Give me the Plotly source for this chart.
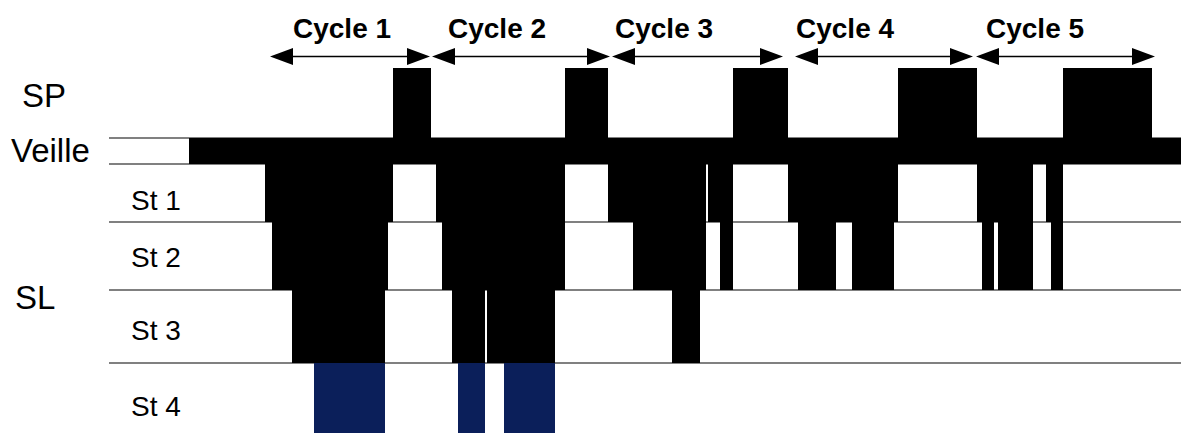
import plotly.graph_objects as go

# ---- data: hypnogram (minutes from lights-off) ----
seg_start = [0, 38, 41.5, 51.5, 62.5, 98, 99.5, 102, 121,
             123.5, 126.5, 131.5, 134.5, 148, 149, 157.5, 183, 188,
             209.5, 222, 241.5, 255.5, 258.5, 259.5, 265.5, 272,
             299.5, 304.5, 323.5, 331.5, 352.5, 354.5,
             394, 396.5, 402.5, 404.5, 422, 428.5, 431, 437, 481.5]
seg_stage = ["Veille", "St 1", "St 2", "St 3", "St 4", "St 2", "St 1", "SP", "Veille",
             "St 1", "St 2", "St 3", "St 4", "St 2", "St 3", "St 4", "St 2", "SP",
             "St 1", "St 2", "St 3", "St 2", "Veille", "St 1", "St 2", "SP",
             "St 1", "St 2", "St 1", "St 2", "St 1", "SP",
             "St 1", "St 2", "St 1", "St 2", "Veille", "St 1", "St 2", "SP", "Veille"]
night_end = 496

cycle_names = ["Cycle 1", "Cycle 2", "Cycle 3", "Cycle 4", "Cycle 5"]
cycle_start = [40.5, 121.5, 211.5, 303, 393.5]
cycle_end = [120.5, 210.5, 297, 392, 483]
cycle_label_x = [76.5, 154, 237.5, 328, 423]

stage_labels = ["St 1", "St 2", "St 3", "St 4"]

# ---- layout geometry (vertical bands of the stage scale) ----
ROW_TOP = {"SP": 68, "Veille": 138, "St 1": 164, "St 2": 222, "St 3": 290, "St 4": 363}
ROW_BOT = {"SP": 138, "Veille": 164, "St 1": 222, "St 2": 290, "St 3": 363, "St 4": 433}
label_y = {"St 1": 200, "St 2": 257, "St 3": 330, "St 4": 406}

seg_end = seg_start[1:] + [night_end]

bx, bw, bbase, bh = [], [], [], []
nx, nw, nbase, nh = [], [], [], []
for s, e, st in zip(seg_start, seg_end, seg_stage):
    mid, w = (s + e) / 2, e - s
    top = ROW_TOP["SP"] if st == "SP" else ROW_TOP["Veille"]
    if st == "SP":
        bot = ROW_BOT["Veille"]
    elif st == "St 4":
        bot = ROW_TOP["St 4"]
        nx.append(mid); nw.append(w); nbase.append(ROW_TOP["St 4"])
        nh.append(ROW_BOT["St 4"] - ROW_TOP["St 4"])
    else:
        bot = ROW_BOT[st]
    bx.append(mid); bw.append(w); bbase.append(top); bh.append(bot - top)

fig = go.Figure()
fig.add_trace(go.Bar(x=bx, y=bh, base=bbase, width=bw,
                     marker=dict(color="black", line=dict(width=0)), hoverinfo="skip"))
fig.add_trace(go.Bar(x=nx, y=nh, base=nbase, width=nw,
                     marker=dict(color="#0b1f5a", line=dict(width=0)), hoverinfo="skip"))

shapes = []
for yv in [ROW_TOP["Veille"], ROW_TOP["St 1"], ROW_TOP["St 2"], ROW_TOP["St 3"], ROW_TOP["St 4"]]:
    shapes.append(dict(type="line", xref="x", yref="y", x0=-40, x1=night_end, y0=yv, y1=yv,
                       line=dict(color="#808080", width=2), layer="below"))

ay = 56.5
hl, hh = 11.5, 8.5
annotations = []
for name, x0, x1, lx in zip(cycle_names, cycle_start, cycle_end, cycle_label_x):
    shapes.append(dict(type="line", xref="x", yref="y", x0=x0 + 5, x1=x1 - 5, y0=ay, y1=ay,
                       line=dict(color="black", width=1.5)))
    shapes.append(dict(type="path", xref="x", yref="y",
                       path=f"M {x0} {ay} L {x0 + hl} {ay - hh} L {x0 + hl} {ay + hh} Z",
                       fillcolor="black", line=dict(width=0)))
    shapes.append(dict(type="path", xref="x", yref="y",
                       path=f"M {x1} {ay} L {x1 - hl} {ay - hh} L {x1 - hl} {ay + hh} Z",
                       fillcolor="black", line=dict(width=0)))
    annotations.append(dict(x=lx, y=28, xref="x", yref="y", text=f"<b>{name}</b>",
                            showarrow=False, xanchor="center", yanchor="middle",
                            font=dict(size=28, color="black", family="Liberation Sans, Arial")))

for txt, xx, yy in [("SP", -72.5, 95), ("Veille", -69.5, 150), ("SL", -77, 297)]:
    annotations.append(dict(x=xx, y=yy, xref="x", yref="y", text=txt, showarrow=False,
                            xanchor="center", yanchor="middle",
                            font=dict(size=33, color="black", family="Liberation Sans, Arial")))
for st in stage_labels:
    annotations.append(dict(x=-16.5, y=label_y[st], xref="x", yref="y", text=st, showarrow=False,
                            xanchor="center", yanchor="middle",
                            font=dict(size=28, color="black", family="Liberation Sans, Arial")))

fig.update_layout(
    width=1181, height=434, margin=dict(l=0, r=0, t=0, b=0),
    paper_bgcolor="white", plot_bgcolor="white", showlegend=False,
    barmode="overlay", shapes=shapes, annotations=annotations,
    xaxis=dict(range=[-94.5, night_end], visible=False, fixedrange=True),
    yaxis=dict(range=[434, 0], visible=False, fixedrange=True),
)
fig.write_html("out.html", config={"displayModeBar": False},
               post_script="document.body.style.margin='0px';document.body.style.overflow='hidden';")
